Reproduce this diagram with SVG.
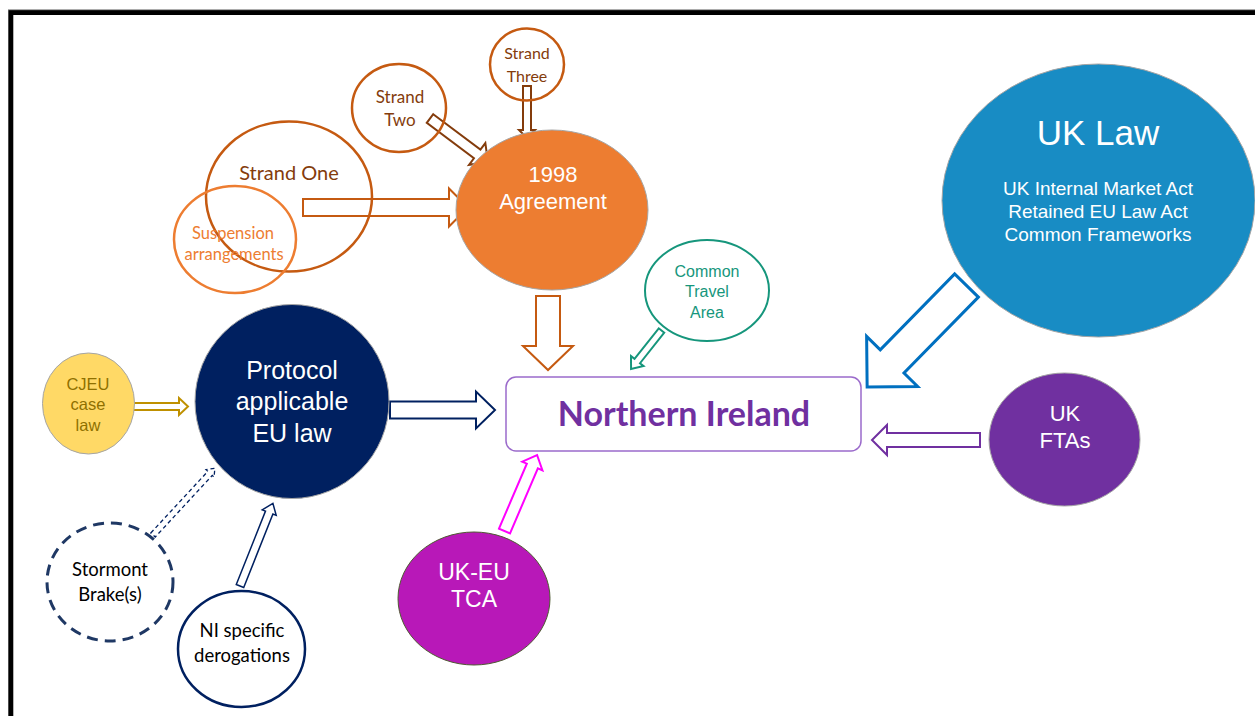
<svg xmlns="http://www.w3.org/2000/svg" width="1255" height="716" viewBox="0 0 1255 716">
<style>
.cal{font-family:Lato,"Open Sans","Liberation Sans",sans-serif}
.ari{font-family:"Liberation Sans",Arial,sans-serif}
text{text-anchor:middle}
.arr{stroke-width:2;stroke-linejoin:miter}
</style>
<rect width="1255" height="716" fill="#fff"/>
<rect x="10.8" y="12.5" width="1270" height="720" fill="none" stroke="#000" stroke-width="5"/>
<line x1="8" y1="9.7" x2="1255" y2="9.7" stroke="#999" stroke-width="1"/>

<g id="connectors" fill="#fff">
  <polygon class="arr" transform="translate(303,207.5)" stroke="#C55A11" points="0,-8.5 146,-8.5 146,-19 165,0 146,19 146,8.5 0,8.5"/>
  <polygon class="arr" transform="translate(430,118.5) rotate(36.9)" stroke="#843C0C" points="0,-5.4 59,-5.4 59,-13.6 72.5,0 59,13.6 59,5.4 0,5.4"/>
  <polygon class="arr" transform="translate(527,86) rotate(90)" stroke="#843C0C" points="0,-4 44,-4 44,-8 52,0 44,8 44,4 0,4"/>
  <polygon class="arr" transform="translate(548,296) rotate(90)" stroke="#C55A11" points="0,-12 50,-12 50,-25 74,0 50,25 50,12 0,12"/>
  <polygon class="arr" transform="translate(661.5,330.5) rotate(128.4)" stroke="#16967C" points="0,-3.5 39,-3.5 39,-8 49,0 39,8 39,3.5 0,3.5"/>
  <polygon class="arr" transform="translate(966.5,285.5) rotate(134.4)" stroke="#0070C0" points="0,-16.6 106.3,-16.6 106.3,-35.7 142,0 106.3,35.7 106.3,16.6 0,16.6" style="stroke-width:3"/>
  <polygon class="arr" transform="translate(980,440) rotate(180)" stroke="#7030A0" points="0,-7 93,-7 93,-15 108,0 93,15 93,7 0,7"/>
  <polygon class="arr" transform="translate(504.5,531) rotate(-66.8)" stroke="#FF00FF" points="0,-6 70.7,-6 70.7,-11 82.7,0 70.7,11 70.7,6 0,6"/>
  <polygon class="arr" transform="translate(390,410)" stroke="#002060" points="0,-8.5 86,-8.5 86,-18.5 105,0 86,18.5 86,8.5 0,8.5"/>
  <polygon class="arr" transform="translate(127,406.5)" stroke="#BF9000" points="0,-3.5 52,-3.5 52,-8.5 61,0 52,8.5 52,3.5 0,3.5"/>
  <polygon transform="translate(153,535) rotate(-47.2)" stroke="#002060" stroke-width="1.3" stroke-dasharray="4,3" points="0,-3 84,-3 84,-5.5 91,0 84,5.5 84,3 0,3"/>
  <polygon class="arr" transform="translate(240,586) rotate(-68.3)" stroke="#002060" style="stroke-width:1.5" points="0,-4 79,-4 79,-7.5 89,0 79,7.5 79,4 0,4"/>
</g>

<g id="strand-one">
  <ellipse cx="289" cy="196.5" rx="83" ry="75" fill="none" stroke="#C55A11" stroke-width="2.5"/>
  <text class="cal" x="289" y="180" font-size="20" fill="#843C0C">Strand One</text>
</g>
<g id="suspension">
  <ellipse cx="235" cy="239.5" rx="61" ry="53.5" fill="none" stroke="#ED7D31" stroke-width="2.5"/>
  <text class="cal" x="233" y="239" font-size="16.5" fill="#ED7D31">Suspension</text>
  <text class="cal" x="234" y="260" font-size="16.5" fill="#ED7D31">arrangements</text>
</g>
<g id="strand-two">
  <ellipse cx="399" cy="108" rx="47" ry="44" fill="none" stroke="#C55A11" stroke-width="2.5"/>
  <text class="cal" x="400" y="103" font-size="17" fill="#843C0C">Strand</text>
  <text class="cal" x="400" y="126" font-size="17" fill="#843C0C">Two</text>
</g>
<g id="strand-three">
  <ellipse cx="527" cy="64.5" rx="37" ry="36" fill="none" stroke="#C55A11" stroke-width="2.5"/>
  <text class="cal" x="527" y="59" font-size="16" fill="#843C0C">Strand</text>
  <text class="cal" x="527" y="82" font-size="16" fill="#843C0C">Three</text>
</g>
<g id="agreement">
  <ellipse cx="552" cy="210" rx="96" ry="80" fill="#ED7D31" stroke="#A5A5A5" stroke-width="1"/>
  <text class="ari" x="553" y="182" font-size="22" fill="#fff">1998</text>
  <text class="ari" x="553" y="209" font-size="22" fill="#fff">Agreement</text>
</g>
<g id="cta">
  <ellipse cx="707" cy="290.5" rx="62" ry="50.5" fill="none" stroke="#16967C" stroke-width="2"/>
  <text class="ari" x="707" y="277" font-size="16" fill="#16967C">Common</text>
  <text class="ari" x="707" y="297" font-size="16" fill="#16967C">Travel</text>
  <text class="ari" x="707" y="318" font-size="16" fill="#16967C">Area</text>
</g>
<g id="uk-law">
  <ellipse cx="1098.5" cy="200.5" rx="156.5" ry="136.5" fill="#188CC4" stroke="#A5A5A5" stroke-width="1"/>
  <text class="ari" x="1098" y="145" font-size="35" fill="#fff">UK Law</text>
  <text class="ari" x="1098" y="195" font-size="19" fill="#fff">UK Internal Market Act</text>
  <text class="ari" x="1098" y="218" font-size="19" fill="#fff">Retained EU Law Act</text>
  <text class="ari" x="1098" y="241" font-size="19" fill="#fff">Common Frameworks</text>
</g>
<g id="northern-ireland">
  <rect x="506" y="377" width="355" height="74" rx="10" fill="#fff" stroke="#9B6BCB" stroke-width="1.5"/>
  <text class="cal" x="684" y="426" font-size="34" font-weight="bold" fill="#7030A0">Northern Ireland</text>
</g>
<g id="uk-ftas">
  <ellipse cx="1064.5" cy="439.5" rx="75.5" ry="66.5" fill="#7030A0" stroke="#A5A5A5" stroke-width="1"/>
  <text class="ari" x="1065" y="421" font-size="22" fill="#fff">UK</text>
  <text class="ari" x="1065" y="448" font-size="22" fill="#fff">FTAs</text>
</g>
<g id="protocol">
  <circle cx="292" cy="401.5" r="97" fill="#002060" stroke="#A5A5A5" stroke-width="1"/>
  <text class="ari" x="292" y="379" font-size="25" fill="#fff">Protocol</text>
  <text class="ari" x="292" y="410" font-size="25" fill="#fff">applicable</text>
  <text class="ari" x="292" y="442" font-size="25" fill="#fff">EU law</text>
</g>
<g id="cjeu">
  <ellipse cx="88.5" cy="403.5" rx="46" ry="50.5" fill="#FFD966" stroke="#A5A5A5" stroke-width="1"/>
  <text class="ari" x="88" y="390" font-size="16.5" fill="#8F7000">CJEU</text>
  <text class="ari" x="88" y="410" font-size="16.5" fill="#8F7000">case</text>
  <text class="ari" x="88" y="431" font-size="16.5" fill="#8F7000">law</text>
</g>
<g id="stormont">
  <ellipse cx="110" cy="582" rx="63" ry="59" fill="none" stroke="#1F3864" stroke-width="3" stroke-dasharray="11,7"/>
  <text class="cal" x="110" y="576" font-size="18.5" fill="#000">Stormont</text>
  <text class="cal" x="110" y="601" font-size="18.5" fill="#000">Brake(s)</text>
</g>
<g id="ni-derogations">
  <ellipse cx="241.5" cy="649" rx="63.5" ry="58" fill="none" stroke="#002060" stroke-width="2.5"/>
  <text class="cal" x="242" y="637" font-size="18.5" fill="#000">NI specific</text>
  <text class="cal" x="242" y="662" font-size="18.5" fill="#000">derogations</text>
</g>
<g id="uk-eu-tca">
  <ellipse cx="474" cy="598.5" rx="76" ry="66.5" fill="#B818B8" stroke="#4E5B31" stroke-width="1"/>
  <text class="ari" x="474" y="580" font-size="23" fill="#fff">UK-EU</text>
  <text class="ari" x="474" y="607" font-size="23" fill="#fff">TCA</text>
</g>
</svg>
